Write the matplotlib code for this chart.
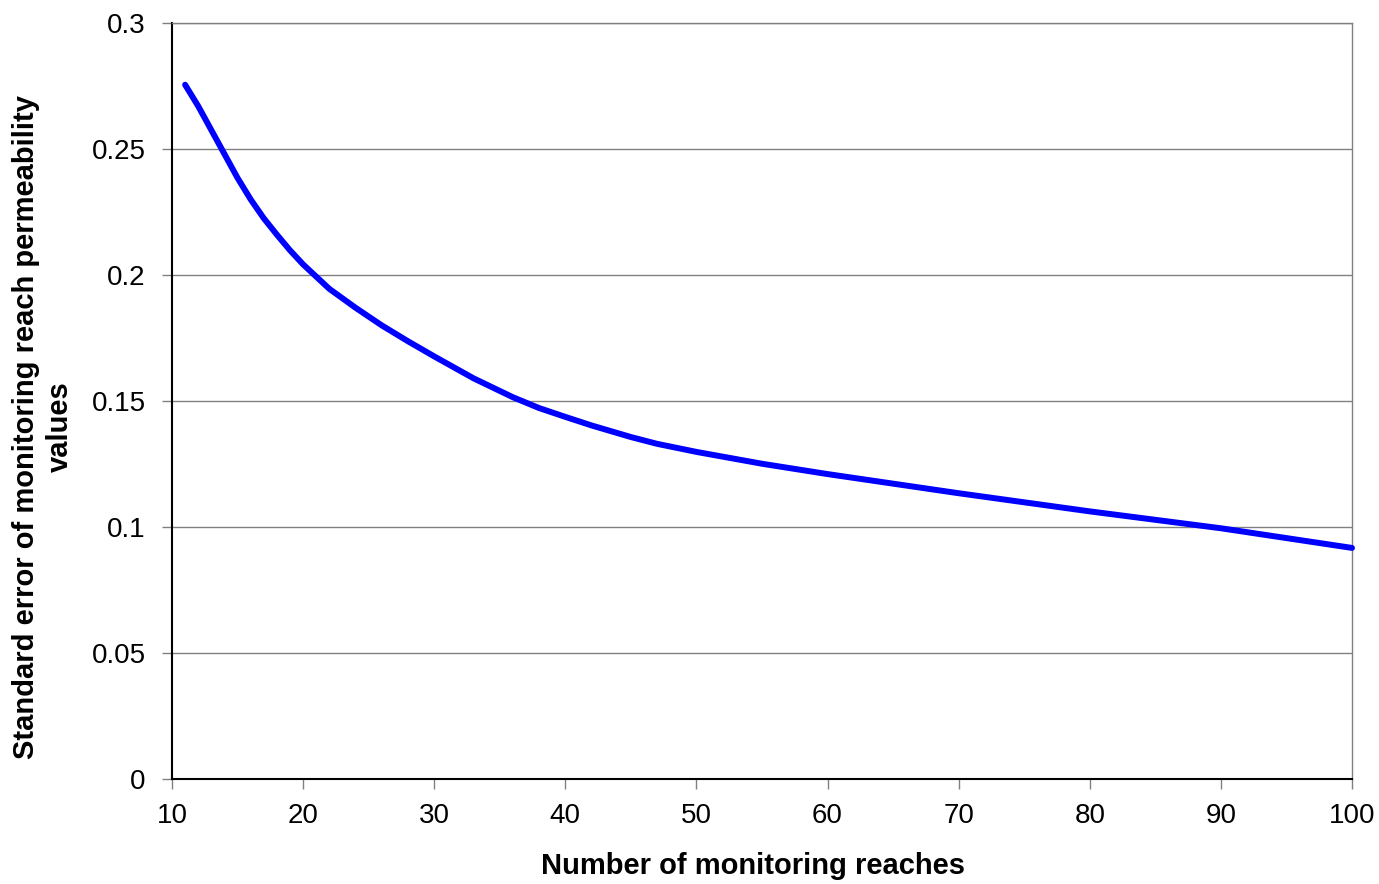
import matplotlib
matplotlib.use("Agg")
import matplotlib.pyplot as plt

plt.rcParams['font.family'] = ['Liberation Sans', 'DejaVu Sans']

n_reaches = [11, 12, 13, 14, 15, 16, 17, 18, 19, 20, 22, 24, 26, 28, 30, 33, 36, 38, 40,
             42, 45, 47, 50, 55, 60, 70, 80, 90, 100]
std_error = [0.2755, 0.2670, 0.2575, 0.2480, 0.2385, 0.2300, 0.2225, 0.2160, 0.2098, 0.2042,
             0.1945, 0.1870, 0.1800, 0.1737, 0.1677, 0.1590, 0.1515, 0.1472, 0.1437,
             0.1403, 0.1357, 0.1330, 0.1298, 0.1251, 0.1210, 0.1134, 0.1062, 0.0995, 0.0917]
x_ticks = [10, 20, 30, 40, 50, 60, 70, 80, 90, 100]
y_ticks = [0, 0.05, 0.1, 0.15, 0.2, 0.25, 0.3]
y_tick_labels = ['0', '0.05', '0.1', '0.15', '0.2', '0.25', '0.3']

W, H = 1379, 884
fig = plt.figure(figsize=(W / 100, H / 100), dpi=100)
ax = fig.add_axes([172 / W, 1 - 779 / H, (1352 - 172) / W, (779 - 23) / H])

ax.plot(n_reaches, std_error, color='#0000FF', linewidth=4.3, solid_capstyle='round',
        solid_joinstyle='round', zorder=3, clip_on=False)

ax.set_xlim(10, 100)
ax.set_ylim(0, 0.3)
ax.set_xticks(x_ticks)
ax.set_yticks(y_ticks)
ax.set_yticklabels(y_tick_labels)
ax.tick_params(axis='both', labelsize=20, direction='out', length=7, width=1, color='#808080')
ax.tick_params(axis='y', pad=12)
ax.tick_params(axis='x', pad=10)
ax.yaxis.grid(True, color='#808080', linewidth=1)
ax.set_axisbelow(True)

for s in ['left', 'bottom']:
    ax.spines[s].set_color('black')
    ax.spines[s].set_linewidth(1.5)
for s in ['top', 'right']:
    ax.spines[s].set_color('#808080')
    ax.spines[s].set_linewidth(1)

fig.text(753 / W, 1 - 866 / H, 'Number of monitoring reaches', fontsize=21,
         fontweight='bold', ha='center', va='center')
fig.text(43 / W, 1 - 427 / H, 'Standard error of monitoring reach permeability\nvalues',
         fontsize=21, fontweight='bold', ha='center', va='center', rotation=90,
         multialignment='center', linespacing=1.25)

fig.savefig('out.png', dpi=100, facecolor='white')
